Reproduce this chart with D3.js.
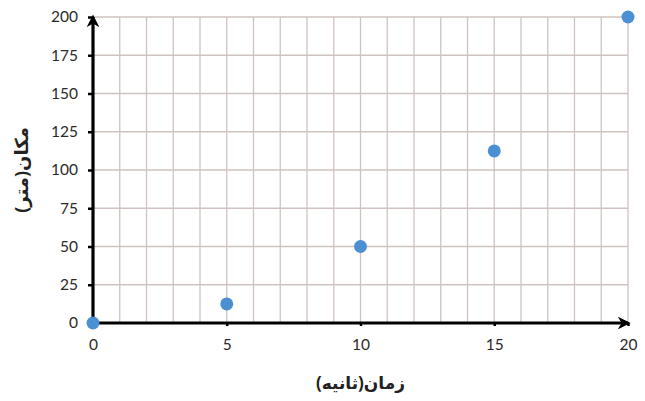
<!DOCTYPE html>
<html>
<head>
<meta charset="utf-8">
<script src="https://cdn.jsdelivr.net/npm/d3@7"></script>
<style>
  html, body { margin: 0; padding: 0; background: #fff; }
  svg { display: block; }
</style>
</head>
<body>
<svg id="chart" width="645" height="401"></svg>
<script>
// Position over time
const times = [0, 5, 10, 15, 20];
const positions = [0, 12.5, 50, 112.5, 200];
const xTicks = [0, 5, 10, 15, 20];
const yTicks = [0, 25, 50, 75, 100, 125, 150, 175, 200];
const xTitle = "زمان(ثانیه)";
const yTitle = "مکان(متر)";

const svg = d3.select("#chart");
const margin = { left: 93, right: 17, top: 17, bottom: 78 };
const W = 645, H = 401;

const x = d3.scaleLinear().domain([0, 20]).range([margin.left, W - margin.right]);
const y = d3.scaleLinear().domain([0, 200]).range([H - margin.bottom, margin.top]);

// grid: vertical every 1 s, horizontal every 25 m
const grid = svg.append("g").attr("stroke", "#cfc3c1").attr("stroke-width", 1.3);
grid.selectAll("line.v").data(d3.range(1, 21)).join("line")
  .attr("x1", d => x(d)).attr("x2", d => x(d))
  .attr("y1", y(0)).attr("y2", y(200));
grid.selectAll("line.h").data(yTicks.slice(1)).join("line")
  .attr("x1", x(0)).attr("x2", x(20))
  .attr("y1", d => y(d)).attr("y2", d => y(d));

// axes
const font = "Lato, 'Open Sans', sans-serif";
const yAxis = d3.axisLeft(y).tickValues(yTicks).tickSize(5).tickPadding(10).tickFormat(d3.format("d"));
const gy = svg.append("g").attr("transform", `translate(${x(0)},0)`).call(yAxis);
gy.select(".domain").remove();
gy.selectAll(".tick line").attr("stroke", "#000").attr("stroke-width", 2.5);
gy.selectAll(".tick text").attr("fill", "#2a2a2a").style("font", `15.5px ${font}`);

const xAxis = d3.axisBottom(x).tickValues(xTicks).tickSize(3).tickPadding(13);
const gx = svg.append("g").attr("transform", `translate(0,${y(0)})`).call(xAxis);
gx.select(".domain").remove();
gx.selectAll(".tick line").attr("stroke", "#000").attr("stroke-width", 2.5);
gx.selectAll(".tick text").attr("fill", "#2a2a2a").style("font", `15.5px ${font}`);

// axis lines with arrowheads
const defs = svg.append("defs");
defs.append("marker").attr("id", "arrow")
  .attr("viewBox", "0 0 10 10").attr("refX", 8).attr("refY", 5)
  .attr("markerWidth", 4).attr("markerHeight", 4)
  .attr("markerUnits", "strokeWidth").attr("orient", "auto")
  .append("path").attr("d", "M0,0 L10,5 L0,10 L3,5 Z").attr("fill", "#000");

svg.append("line")
  .attr("x1", x(0)).attr("y1", y(0)).attr("x2", x(20)).attr("y2", y(0))
  .attr("stroke", "#000").attr("stroke-width", 3.2).attr("marker-end", "url(#arrow)");
svg.append("line")
  .attr("x1", x(0)).attr("y1", y(0)).attr("x2", x(0)).attr("y2", y(200))
  .attr("stroke", "#000").attr("stroke-width", 3.2).attr("marker-end", "url(#arrow)");

// data points
svg.append("g").selectAll("circle").data(times).join("circle")
  .attr("cx", d => x(d))
  .attr("cy", (d, i) => y(positions[i]))
  .attr("r", 6.5)
  .attr("fill", "#4a90d2");

// axis titles
svg.append("text")
  .attr("x", (x(0) + x(20)) / 2).attr("y", 389)
  .attr("text-anchor", "middle").attr("direction", "rtl")
  .style("font", "bold 17px 'Noto Sans', 'DejaVu Sans', sans-serif")
  .attr("fill", "#222")
  .text(xTitle);

svg.append("text")
  .attr("transform", `translate(28,${(y(0) + y(200)) / 2}) rotate(-90)`)
  .attr("text-anchor", "middle").attr("direction", "rtl")
  .style("font", "bold 18px 'Noto Sans', 'DejaVu Sans', sans-serif")
  .attr("fill", "#222")
  .text(yTitle);
</script>
</body>
</html>
